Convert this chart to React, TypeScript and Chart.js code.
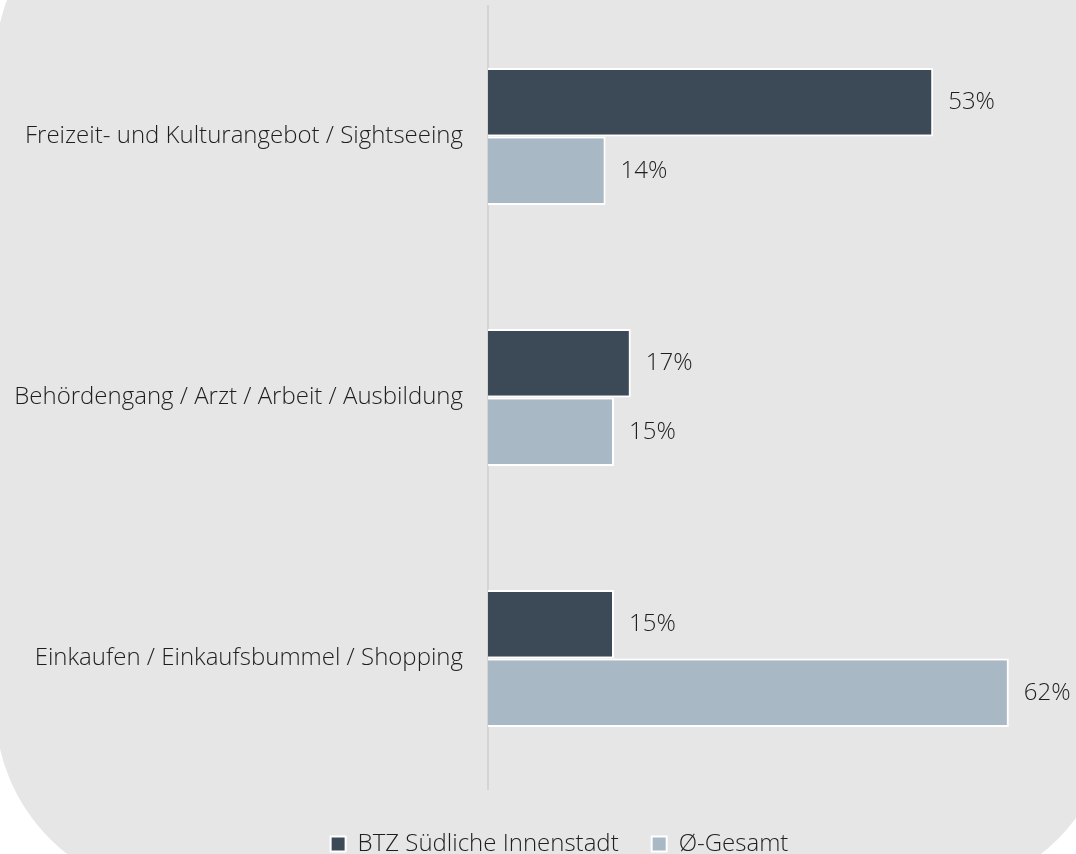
import React, { useEffect, useRef } from "react";
import { Chart, registerables } from "chart.js";

Chart.register(...registerables);

const categories = [
  "Freizeit- und Kulturangebot / Sightseeing",
  "Behördengang / Arzt / Arbeit / Ausbildung",
  "Einkaufen / Einkaufsbummel / Shopping",
];
const seriesNames = ["BTZ Südliche Innenstadt", "Ø-Gesamt"];
const btzValues = [53, 17, 15];
const gesamtValues = [14, 15, 62];

const FONT = "'Open Sans', 'Noto Sans', sans-serif";
const TEXT_COLOR = "#1e1e1e";
const FONT_SIZE = 24;
const FONT_WEIGHT = "300";

const backgroundPlugin = {
  id: "roundedBackground",
  beforeDraw(chart: any) {
    const ctx = chart.ctx;
    ctx.save();
    ctx.fillStyle = "#ffffff";
    ctx.fillRect(0, 0, chart.width, chart.height);
    ctx.fillStyle = "#e6e6e6";
    ctx.beginPath();
    (ctx as any).roundRect(-5, -122, 1118, 1016, 188);
    ctx.fill();
    ctx.restore();
  },
};

// shift the legend block so it is centred like the original (slightly right of canvas centre)
const legendShiftPlugin = {
  id: "legendShift",
  afterLayout(chart: any) {
    const lg = chart.legend;
    if (!lg) return;
    lg.left = 43;
    lg.top += 10;
    lg.bottom += 10;
  },
};

const valueLabelPlugin = {
  id: "valueLabels",
  afterDatasetsDraw(chart: any) {
    const ctx = chart.ctx;
    ctx.save();
    ctx.font = `${FONT_WEIGHT} ${FONT_SIZE}px ${FONT}`;
    ctx.fillStyle = TEXT_COLOR;
    ctx.textAlign = "left";
    ctx.textBaseline = "middle";
    chart.data.datasets.forEach((ds: any, di: number) => {
      const meta = chart.getDatasetMeta(di);
      meta.data.forEach((el: any, i: number) => {
        ctx.fillText(`${ds.data[i]}%`, el.x + 15, el.y);
      });
    });
    ctx.restore();
  },
};

export default function App() {
  const ref = useRef<HTMLCanvasElement>(null);

  useEffect(() => {
    if (!ref.current) return;
    const chart = new Chart(ref.current, {
      type: "bar",
      data: {
        labels: categories,
        datasets: [
          {
            label: seriesNames[0],
            data: btzValues,
            backgroundColor: "#3c4a57",
            borderColor: "#ffffff",
            borderWidth: 2,
          },
          {
            label: seriesNames[1],
            data: gesamtValues,
            backgroundColor: "#a9b8c5",
            borderColor: "#ffffff",
            borderWidth: 2,
          },
        ],
      },
      options: {
        indexAxis: "y",
        responsive: false,
        animation: false,
        maintainAspectRatio: false,
        datasets: {
          bar: {
            barPercentage: 1,
            categoryPercentage: 0.525,
          },
        },
        layout: {
          padding: { top: 6, left: 0, right: 0, bottom: 0 },
        },
        scales: {
          x: {
            display: false,
            min: 0,
            max: 70,
          },
          y: {
            z: 1,
            afterFit: (scale: any) => {
              scale.width = 488;
              scale.paddingTop = 0;
              scale.paddingBottom = 0;
            },
            grid: { display: false, drawTicks: false },
            border: { display: true, color: "#d4d4d4", width: 2 },
            ticks: {
              padding: 25,
              color: TEXT_COLOR,
              font: { family: FONT, size: FONT_SIZE, weight: FONT_WEIGHT as any },
            },
          },
        },
        plugins: {
          legend: {
            display: true,
            position: "bottom",
            labels: {
              boxWidth: 15,
              boxHeight: 15,
              padding: 33,
              color: TEXT_COLOR,
              font: { family: FONT, size: FONT_SIZE, weight: FONT_WEIGHT as any },
            },
          },
          tooltip: { enabled: false },
        },
      },
      plugins: [backgroundPlugin, legendShiftPlugin, valueLabelPlugin],
    });
    return () => chart.destroy();
  }, []);

  return (
    <div
      style={{
        position: "absolute",
        left: 0,
        top: 0,
        width: 1076,
        height: 854,
        overflow: "hidden",
      }}
    >
      <canvas ref={ref} width={1076} height={856} style={{ display: "block" }} />
    </div>
  );
}
